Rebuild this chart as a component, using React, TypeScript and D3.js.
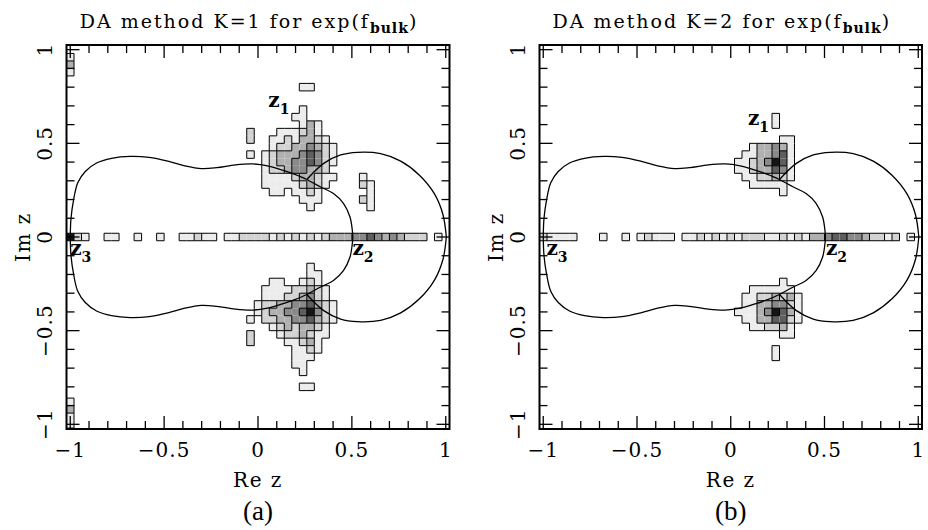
import React from "react";
import * as d3 from "d3";

// ---------- data ----------
const TITLE_MAIN = ["DA method K=1 for exp(f", "DA method K=2 for exp(f"];
const TITLE_SUB = "bulk";
const PANEL_TAGS = ["(a)", "(b)"];
const X_LABEL = "Re z";
const Y_LABEL = "Im z";
const MAJOR_TICKS = [-1, -0.5, 0, 0.5, 1];
const MAJOR_LABELS = ["\u22121", "\u22120.5", "0", "0.5", "1"];
const MINOR_TICKS = [-1, -0.9, -0.8, -0.7, -0.6, -0.5, -0.4, -0.3, -0.2, -0.1, 0, 0.1, 0.2, 0.3, 0.4, 0.5, 0.6, 0.7, 0.8, 0.9, 1];
const BIN = 0.04;
const SHADES = ["none", "#ececec", "#d3d3d3", "#b0b0b0", "#8a8a8a", "#5e5e5e", "#151515"];

// histogram rows: [row index m (Im = m*BIN), first column k (Re = k*BIN), levels per cell ('.' = empty)]
const cellsA: [number, number, string][] = [
  [24, -25, "1"], [23, -25, "3"], [22, -25, "1"],
  [20, 6, "11"],
  [17, 6, "1"],
  [16, 5, "11"],
  [15, 6, "131"],
  [14, -1, "2...111231"],
  [13, -1, "2..11213321"],
  [12, 2, "122334321"],
  [11, -1, "1.1233345421"],
  [10, 1, "1233445421"],
  [9, 1, "122344332"],
  [8, 1, "1111233211"],
  [7, 1, "111112321"],
  [6, 2, "11.1121"],
  [5, 6, "111"],
  [4, 7, "1"],
  [8, 14, "1"], [7, 14, "21"], [6, 15, "1"], [5, 14, "21"], [4, 15, "1"],
  [0, -25, "621"], [0, -20, "11"], [0, -16, "1"], [0, -13, "1"], [0, -10, "11211"],
  [0, -4, "112222121212123334454343222"], [0, 24, "1"],
  [-4, 7, "1"],
  [-5, 7, "11"],
  [-6, 2, "11..121"],
  [-7, 1, "111122321"],
  [-8, 1, "111223421"],
  [-9, 0, "12233445321"],
  [-10, 0, "12334456421"],
  [-11, -1, "1.2233445321"],
  [-12, 2, "12323321"],
  [-13, -1, "2...1223211"],
  [-14, -1, "2....11231"],
  [-15, 5, "1121"],
  [-16, 5, "111"],
  [-17, 5, "11"],
  [-18, 6, "1"],
  [-20, 6, "11"],
  [-22, -25, "1"], [-23, -25, "3"], [-24, -25, "1"], [-25, -25, "1"],
];

const cellsB: [number, number, string][] = [
  [16, 6, "1"], [15, 6, "1"],
  [13, 7, "11"],
  [12, 3, "133431"],
  [11, 2, "1133451"],
  [10, 1, "11234651"],
  [9, 1, "11233541"],
  [8, 2, "1122321"],
  [7, 3, "11111"],
  [6, 7, "1"],
  [0, -25, "21111"], [0, -17, "1"], [0, -14, "1"], [0, -12, "12111"],
  [0, -6, "11212121222112121334554432212"], [0, 24, "1"],
  [-6, 7, "1"],
  [-7, 3, "111111"],
  [-8, 2, "11223231"],
  [-9, 2, "11334421"],
  [-10, 1, "111346531"],
  [-11, 2, "11335521"],
  [-12, 3, "112231"],
  [-13, 7, "11"],
  [-15, 6, "1"], [-16, 6, "1"],
];

// phase-boundary curves (upper half; lower half is their mirror image)
const peanutUpper: [number, number][] = [
  [-1.0, 0], [-0.996, 0.1], [-0.982, 0.2], [-0.96, 0.29], [-0.92, 0.35], [-0.86, 0.395],
  [-0.78, 0.42], [-0.68, 0.43], [-0.58, 0.425], [-0.48, 0.405], [-0.39, 0.38], [-0.3, 0.365],
  [-0.22, 0.37], [-0.12, 0.385], [-0.03, 0.39], [0.05, 0.38], [0.13, 0.357], [0.2, 0.333], [0.26, 0.307],
];
const innerUpper: [number, number][] = [
  [0.26, 0.307], [0.334, 0.267], [0.402, 0.232], [0.455, 0.18], [0.49, 0.107], [0.503, 0.03], [0.505, 0],
];
const circleUpper: [number, number][] = [
  [0.26, 0.307], [0.35, 0.393], [0.44, 0.438], [0.53, 0.452], [0.653, 0.445], [0.76, 0.405],
  [0.86, 0.33], [0.94, 0.23], [0.985, 0.12], [1.003, 0],
];

type ZLabel = { sub: string; x: number; y: number };
const zLabelsA: ZLabel[] = [
  { sub: "1", x: 0.055, y: 0.694 },
  { sub: "2", x: 0.503, y: -0.096 },
  { sub: "3", x: -1.0, y: -0.096 },
];
const zLabelsB: ZLabel[] = [
  { sub: "1", x: 0.092, y: 0.6 },
  { sub: "2", x: 0.508, y: -0.096 },
  { sub: "3", x: -0.983, y: -0.096 },
];

// ---------- layout ----------
const W = 928;
const H = 530;
const Y0 = 45;
const Y1 = 429;
const FONT = "'DejaVu Serif', serif";
const PANELS = [
  { x0: 66.5, x1: 449.5, cells: cellsA, zl: zLabelsA },
  { x0: 539.5, x1: 922, cells: cellsB, zl: zLabelsB },
];

function Panel({ idx }: { idx: number }) {
  const p = PANELS[idx];
  const xs = d3.scaleLinear().domain([-1.02, 1.02]).range([p.x0, p.x1]);
  const ys = d3.scaleLinear().domain([-1.025, 1.025]).range([Y1, Y0]);
  const cx = (p.x0 + p.x1) / 2;

  const grid = new Map<string, number>();
  p.cells.forEach(([m, k0, s]) => {
    for (let i = 0; i < s.length; i++) {
      const c = s[i];
      if (c !== ".") grid.set(`${k0 + i},${m}`, +c);
    }
  });
  const lvl = (k: number, m: number) => grid.get(`${k},${m}`) || 0;

  const rects: JSX.Element[] = [];
  const edges: string[] = [];
  grid.forEach((v, key) => {
    const [k, m] = key.split(",").map(Number);
    const xa = xs((k - 0.5) * BIN), xb = xs((k + 0.5) * BIN);
    const ya = ys((m + 0.5) * BIN), yb = ys((m - 0.5) * BIN);
    rects.push(<rect key={key} x={xa} y={ya} width={xb - xa} height={yb - ya} fill={SHADES[v]} />);
    const nR = lvl(k + 1, m), nL = lvl(k - 1, m), nU = lvl(k, m + 1), nD = lvl(k, m - 1);
    if (nR !== v) edges.push(`M${xb},${ya}V${yb}`);
    if (nL !== v && nL === 0) edges.push(`M${xa},${ya}V${yb}`);
    if (nU !== v) edges.push(`M${xa},${ya}H${xb}`);
    if (nD !== v && nD === 0) edges.push(`M${xa},${yb}H${xb}`);
  });

  const line = d3.line<[number, number]>().x((d) => xs(d[0])).y((d) => ys(d[1])).curve(d3.curveCatmullRom);
  const mirror = (a: [number, number][]) => a.map(([x, y]) => [x, -y] as [number, number]);
  const curves = [peanutUpper, innerUpper, circleUpper].flatMap((c) => [c, mirror(c)]);

  const clipId = `clip${idx}`;
  const minorLen = 8, majorLen = 13;

  return (
    <g>
      <defs>
        <clipPath id={clipId}>
          <rect x={p.x0} y={Y0} width={p.x1 - p.x0} height={Y1 - Y0} />
        </clipPath>
      </defs>
      <g clipPath={`url(#${clipId})`}>
        {rects}
        <path d={edges.join("")} stroke="#000" strokeWidth={1} fill="none" />
        {curves.map((c, i) => (
          <path key={i} d={line(c) || ""} stroke="#000" strokeWidth={1.3} fill="none" />
        ))}
      </g>
      {/* ticks */}
      {MINOR_TICKS.map((t, i) => {
        const isMajor = MAJOR_TICKS.some((mt) => Math.abs(mt - t) < 1e-9);
        const L = isMajor ? majorLen : minorLen;
        return (
          <g key={i} stroke="#000" strokeWidth={1.3}>
            <line x1={xs(t)} x2={xs(t)} y1={Y1} y2={Y1 - L} />
            <line x1={xs(t)} x2={xs(t)} y1={Y0} y2={Y0 + L} />
            <line x1={p.x0} x2={p.x0 + L} y1={ys(t)} y2={ys(t)} />
            <line x1={p.x1} x2={p.x1 - L} y1={ys(t)} y2={ys(t)} />
          </g>
        );
      })}
      <rect x={p.x0} y={Y0} width={p.x1 - p.x0} height={Y1 - Y0} fill="none" stroke="#000" strokeWidth={2} />
      {/* tick labels */}
      {MAJOR_TICKS.map((t, i) => (
        <text key={`xl${i}`} x={xs(t)} y={457} textAnchor="middle" fontFamily={FONT} fontSize={20} letterSpacing={1}>
          {MAJOR_LABELS[i]}
        </text>
      ))}
      {MAJOR_TICKS.map((t, i) => (
        <text
          key={`yl${i}`}
          transform={`translate(${p.x0 - 15},${ys(t)}) rotate(-90)`}
          textAnchor="middle"
          fontFamily={FONT}
          fontSize={20}
          letterSpacing={1}
        >
          {MAJOR_LABELS[i]}
        </text>
      ))}
      {/* axis labels */}
      <text x={cx} y={487} textAnchor="middle" fontFamily={FONT} fontSize={20} letterSpacing={1.5}>
        {X_LABEL}
      </text>
      <text transform={`translate(${p.x0 - 37},${(Y0 + Y1) / 2}) rotate(-90)`} textAnchor="middle" fontFamily={FONT} fontSize={20} letterSpacing={1.5}>
        {Y_LABEL}
      </text>
      <text x={cx} y={520} textAnchor="middle" fontFamily="'Liberation Serif', serif" fontSize={27}>
        {PANEL_TAGS[idx]}
      </text>
      {/* title */}
      <text x={cx - 9} y={28} textAnchor="middle" fontFamily={FONT} fontSize={19} letterSpacing={2}>
        <tspan>{TITLE_MAIN[idx]}</tspan>
        <tspan fontSize={14} fontWeight="bold" dy={5} letterSpacing={1}>{TITLE_SUB}</tspan>
        <tspan dy={-5}>)</tspan>
      </text>
      {/* z labels */}
      {p.zl.map((z, i) => (
        <text key={`z${i}`} x={xs(z.x)} y={ys(z.y)} fontFamily={FONT} fontSize={20} fontWeight="bold">
          <tspan>z</tspan>
          <tspan fontSize={14} dy={7}>{z.sub}</tspan>
        </text>
      ))}
    </g>
  );
}

export default function App() {
  return (
    <svg width={W} height={H} viewBox={`0 0 ${W} ${H}`} style={{ display: "block", position: "absolute", left: 0, top: 0, background: "#fff" }}>
      <rect width={W} height={H} fill="#fff" />
      <Panel idx={0} />
      <Panel idx={1} />
    </svg>
  );
}
